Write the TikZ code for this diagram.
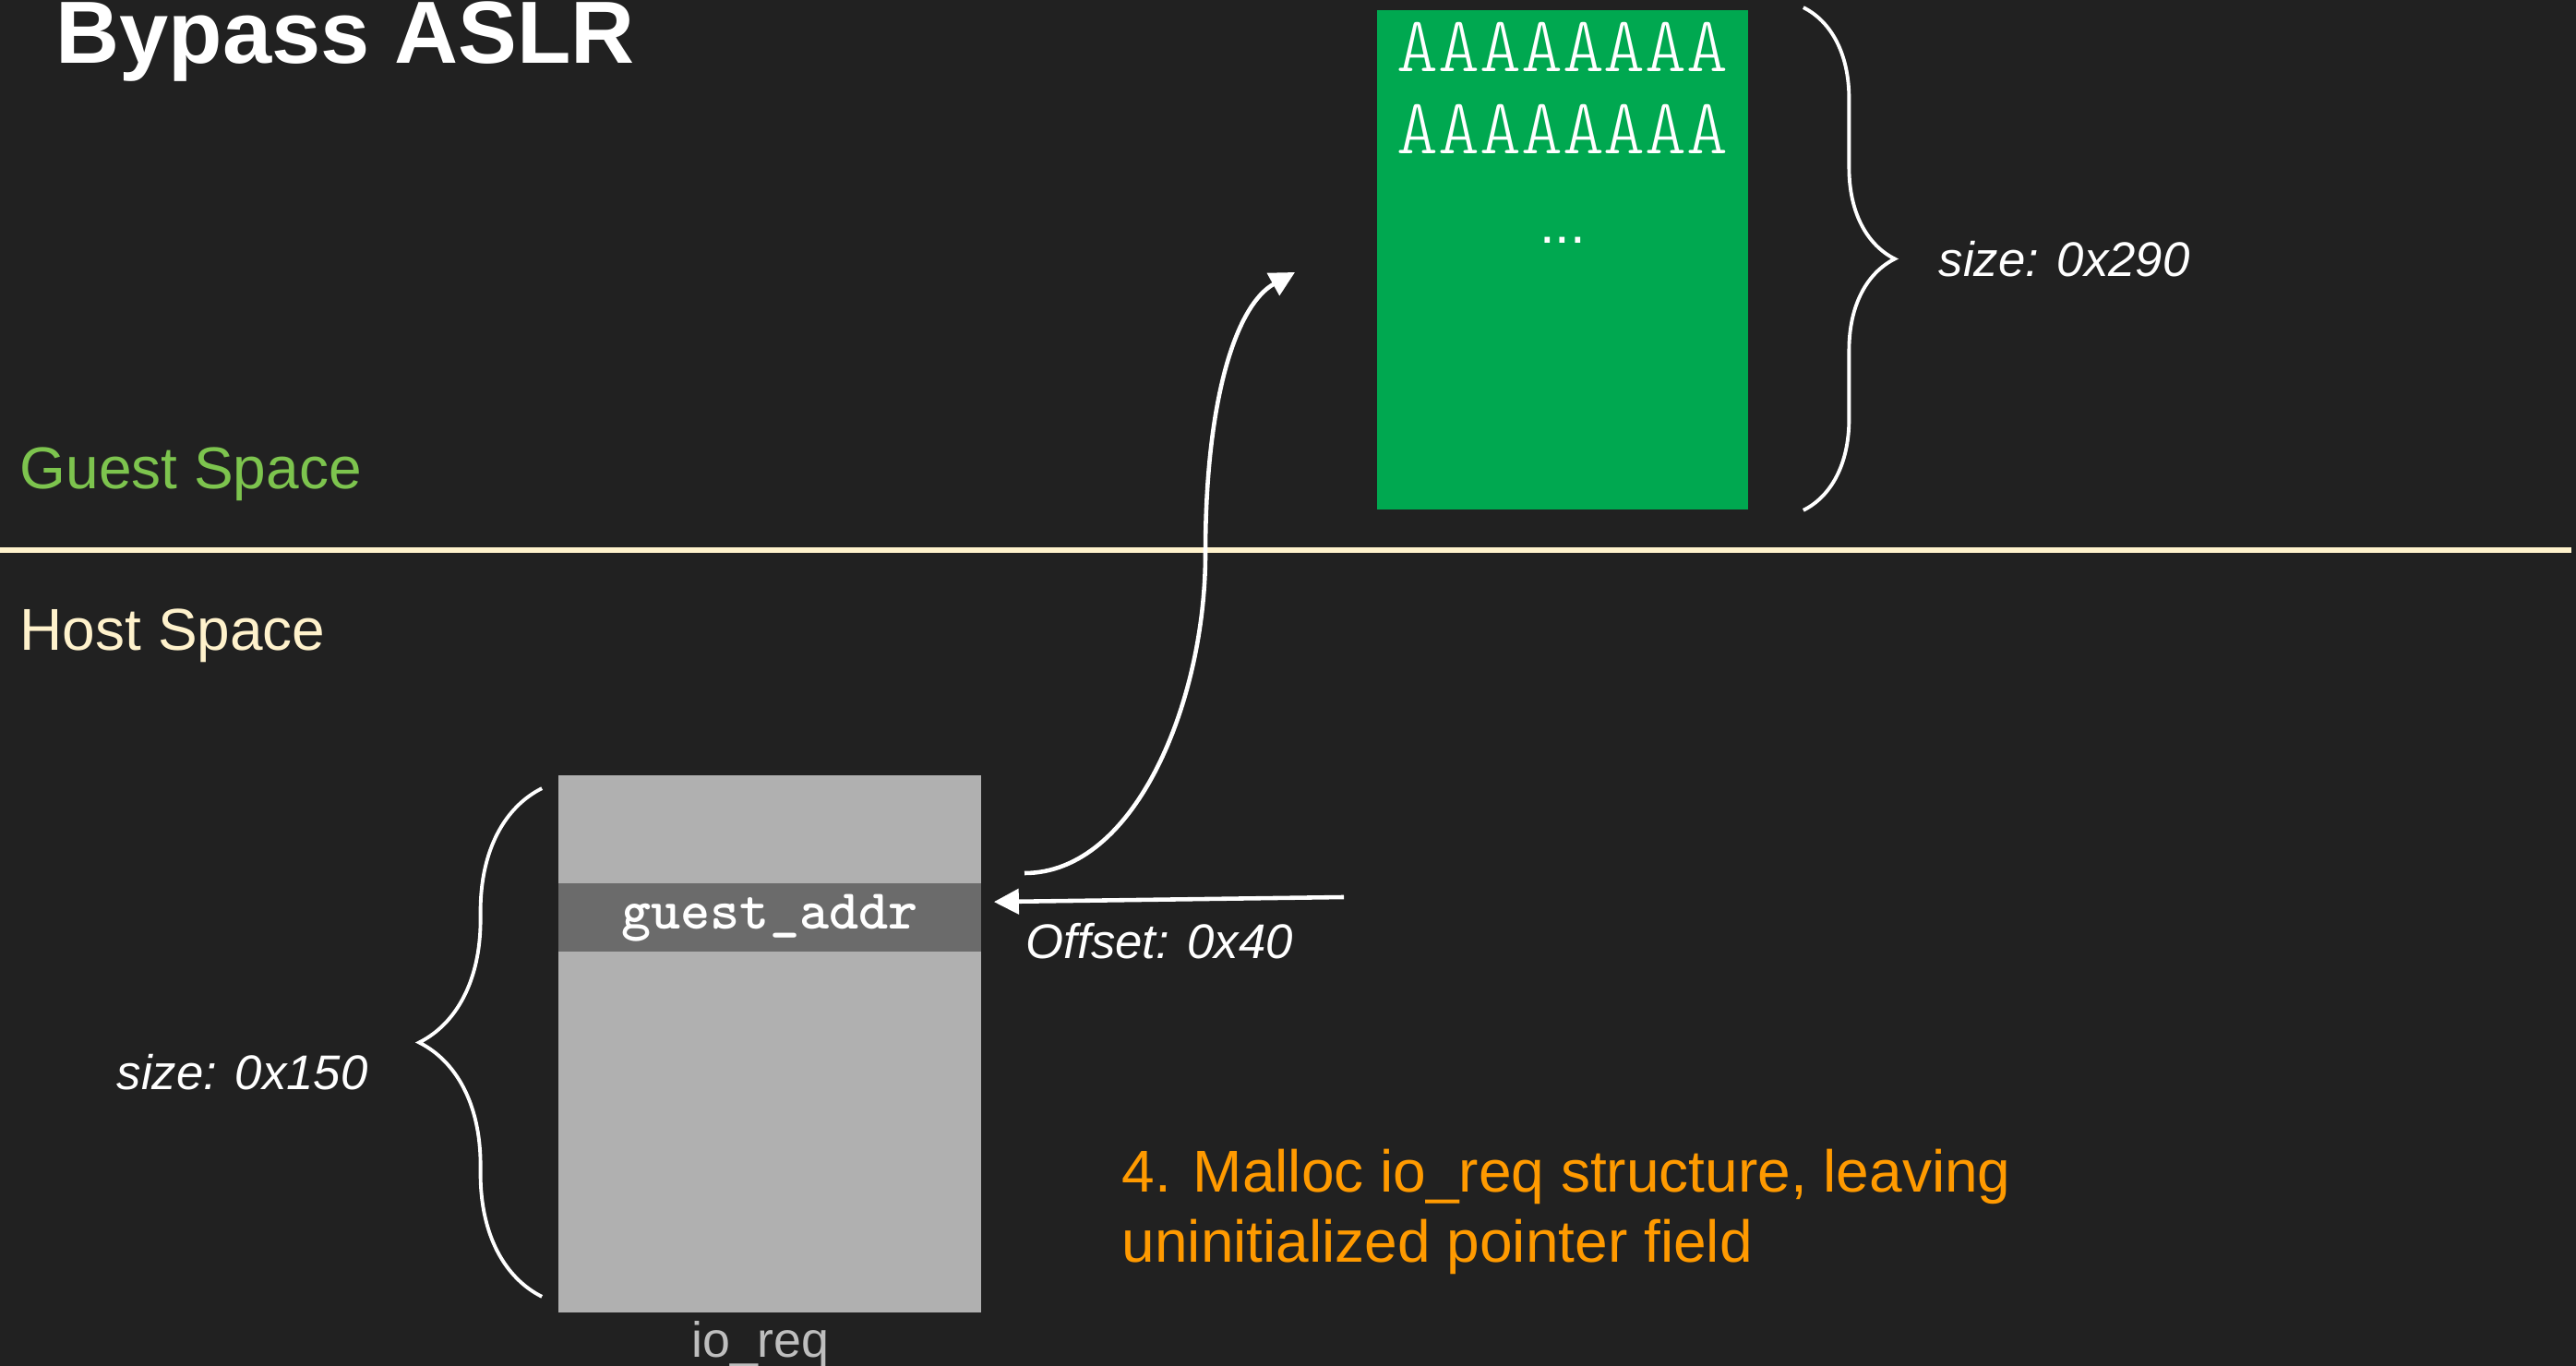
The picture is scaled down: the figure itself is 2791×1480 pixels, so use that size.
\documentclass[tikz,border=0pt]{standalone}
\usepackage{fontspec}
\setmainfont{Liberation Sans}
\setmonofont{Liberation Mono}
\newfontfamily\fillfont{Latin Modern Mono Light}
\usetikzlibrary{positioning,arrows.meta,decorations.pathreplacing}

\definecolor{slidebg}{HTML}{212121}
\definecolor{guestgreen}{HTML}{7DC44E}
\definecolor{hostcream}{HTML}{FFF2CC}
\definecolor{chunkgreen}{HTML}{00A850}
\definecolor{structgray}{HTML}{B0B0B0}
\definecolor{fieldgray}{HTML}{6B6B6B}
\definecolor{labelgray}{HTML}{BEBEBE}
\definecolor{steporange}{HTML}{FF9A00}

\tikzset{
  spacetxt/.style={anchor=base west, inner sep=0pt, font=\fontsize{18.2}{22}\selectfont},
  sizetxt/.style={anchor=west, inner sep=0pt, text=white, font=\fontsize{15}{18}\selectfont\itshape},
  fillrow/.style={anchor=base, inner sep=0pt, text=white, font=\fontsize{24.3}{28}\fillfont},
  steptxt/.style={anchor=base west, inner sep=0pt, text=steporange, font=\fontsize{18.2}{22}\selectfont},
  bracket/.style={draw=white, line width=1.1pt, decorate, decoration={brace, amplitude=#1}},
  bracket/.default=0.99cm,
  ptr/.style={draw=white, line width=1.3pt, -{Triangle[length=0.27cm, width=0.27cm]}}
}

\begin{document}
\begin{tikzpicture}[x=0.01cm, y=-0.01cm]
  \fill[slidebg] (0,0) rectangle (2791,1480);
  \useasboundingbox (0,0) rectangle (2791,1480);

  % title and the two address spaces
  \node[anchor=base west, inner sep=0pt, text=white, font=\fontsize{27.2}{31}\selectfont\bfseries] (title) at (60,69) {Bypass ASLR};
  \node[spacetxt, text=guestgreen] (guest) at (21,530) {Guest Space};
  \draw[hostcream, line width=1.6pt] (0,596) -- (2786,596);
  \node[spacetxt, text=hostcream] (host) at (21,705) {Host Space};

  % sprayed chunk in guest memory
  \node[fill=chunkgreen, minimum width=4.02cm, minimum height=5.41cm] (chunk) at (1693,281.5) {};
  \node[fillrow] (rowa) at (1693,78) {AAAAAAAA};
  \node[fillrow] (rowb) at (1693,167) {AAAAAAAA};
  \node[anchor=base, inner sep=0pt, text=white, font=\fontsize{17}{20}\selectfont] (more) at (1693,264) {...};
  \draw[bracket] ([xshift=0.59cm,yshift=0.02cm]chunk.north east) -- ([xshift=0.59cm]chunk.south east);
  \node[sizetxt] (chunksize) at (2100,281) {size: 0x290};

  % io_req on the host heap
  \node[fill=structgray, minimum width=4.58cm, minimum height=5.82cm] (req) at (834,1131) {};
  \node[fill=fieldgray, minimum width=4.58cm, minimum height=0.65cm, text=white,
        font=\fontsize{17.4}{20}\fillfont\bfseries, below=1.17cm of req.north] (addr) {guest\_addr};
  \node[inner sep=0pt, text=labelgray, font=\fontsize{15.3}{18}\selectfont, below=0.08cm of req, xshift=-0.1cm] (reqname) {io\_req};
  \draw[bracket=1.33cm] ([xshift=-0.17cm,yshift=0.18cm]req.south west) -- ([xshift=-0.17cm,yshift=-0.15cm]req.north west);
  \node[sizetxt] (reqsize) at (126,1162) {size: 0x150};

  % offset of the stale pointer
  \coordinate (offtail) at (1456,972);
  \draw[ptr] (offtail) -- ([xshift=0.13cm,yshift=0.17cm]addr.east);
  \node[sizetxt] (offset) at (1111,1020) {Offset: 0x40};

  % pointer still aims into guest memory
  \coordinate (ptrstart) at (1110,946);
  \coordinate (ptrhit) at (1403,295);
  \draw[ptr] (ptrstart) .. controls (1230,946) and (1306,760) .. (1306,600)
                        .. controls (1306,430) and (1340,330) .. (ptrhit);

  \node[steptxt] (stepa) at (1215,1291) {4. Malloc io\_req structure, leaving};
  \node[steptxt] (stepb) at ([yshift=-0.76cm]stepa.base west) {uninitialized pointer field};
\end{tikzpicture}
\end{document}
